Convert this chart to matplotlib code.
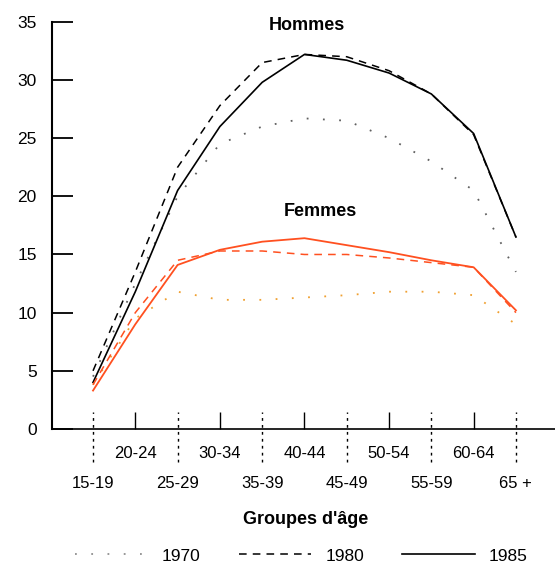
import numpy as np
import matplotlib
matplotlib.use("Agg")
import matplotlib.pyplot as plt
from matplotlib.lines import Line2D

plt.rcParams['font.family'] = ['Liberation Sans', 'DejaVu Sans']

## data
groupes = ['15-19', '20-24', '25-29', '30-34', '35-39', '40-44',
           '45-49', '50-54', '55-59', '60-64', '65 +']

hommes_1970 = [4.5, 12.5, 20.0, 24.5, 26.0, 26.7, 26.5, 25.0, 23.0, 20.5, 13.5]
hommes_1980 = [5.0, 13.5, 22.5, 27.8, 31.5, 32.2, 32.0, 30.8, 28.8, 25.3, 16.5]
hommes_1985 = [4.0, 11.8, 20.5, 26.0, 29.8, 32.2, 31.7, 30.6, 28.8, 25.4, 16.5]

femmes_1970 = [3.8, 9.5, 11.8, 11.1, 11.1, 11.3, 11.5, 11.8, 11.8, 11.5, 9.0]
femmes_1980 = [3.8, 10.0, 14.5, 15.3, 15.3, 15.0, 15.0, 14.7, 14.3, 13.9, 10.0]
femmes_1985 = [3.3, 9.0, 14.1, 15.4, 16.1, 16.4, 15.8, 15.2, 14.5, 13.9, 10.2]

annees = ['1970', '1980', '1985']

# styles
dotted = (0, (1, 8))
dashed = (0, (5, 4))
noir = 'black'
orange = '#ff5020'
orange_dot = '#f0a030'


def main():
    fig = plt.figure(figsize=(5.55, 5.75), dpi=100)
    ax = fig.add_axes([0.0937, 0.254, 0.906, 0.708])
    x = np.arange(len(groupes))

    ax.plot(x, hommes_1970, color='#606060', ls=dotted, lw=1.3)
    ax.plot(x, hommes_1980, color=noir, ls=dashed, lw=1.1)
    ax.plot(x, hommes_1985, color=noir, ls='-', lw=1.2)

    ax.plot(x, femmes_1970, color=orange_dot, ls=dotted, lw=1.3)
    ax.plot(x, femmes_1980, color=orange, ls=dashed, lw=1.1)
    ax.plot(x, femmes_1985, color=orange, ls='-', lw=1.3)

    ax.text(5.06, 34.7, 'Hommes', ha='center', va='center', fontsize=13, fontweight='bold')
    ax.text(5.37, 18.66, 'Femmes', ha='center', va='center', fontsize=13, fontweight='bold')

    ax.set_xlim(-0.97, 10.92)
    ax.set_ylim(0, 35)
    ax.spines['top'].set_visible(False)
    ax.spines['right'].set_visible(False)
    ax.spines['left'].set_linewidth(1.5)
    ax.spines['bottom'].set_linewidth(1.2)

    ax.set_yticks(range(0, 36, 5))
    ax.tick_params(axis='y', direction='in', length=15, width=1.3, pad=11, labelsize=12.5)

    # two rows of age labels: even groups low, odd groups high
    ax.set_xticks(x[::2])
    ax.set_xticklabels(groupes[::2])
    ax.set_xticks(x[1::2], minor=True)
    ax.set_xticklabels(groupes[1::2], minor=True)
    ax.tick_params(axis='x', which='major', length=0, pad=34, labelsize=12)
    ax.tick_params(axis='x', which='minor', direction='in', length=12, width=1, pad=12, labelsize=12)

    # dashed separators between the labels
    ax.vlines(x[::2], -0.081, 0.042, transform=ax.get_xaxis_transform(),
              colors=noir, linestyles=(0, (2, 3)), lw=1, clip_on=False)

    fig.text(0.551, 1 - 519 / 575., "Groupes d'âge", ha='center', va='center',
             fontsize=13, fontweight='bold')

    handles = [Line2D([], [], color='#909090', ls=dotted, lw=1.3),
               Line2D([], [], color=noir, ls=dashed, lw=1.1),
               Line2D([], [], color=noir, ls='-', lw=1.2)]
    fig.legend(handles, annees, loc='center', bbox_to_anchor=(0.543, 1 - 556 / 575.),
               ncol=3, frameon=False, fontsize=12.5, handlelength=4.2,
               handletextpad=0.8, columnspacing=2.2)

    fig.savefig('out.png', dpi=100)


if __name__ == '__main__':
    main()
